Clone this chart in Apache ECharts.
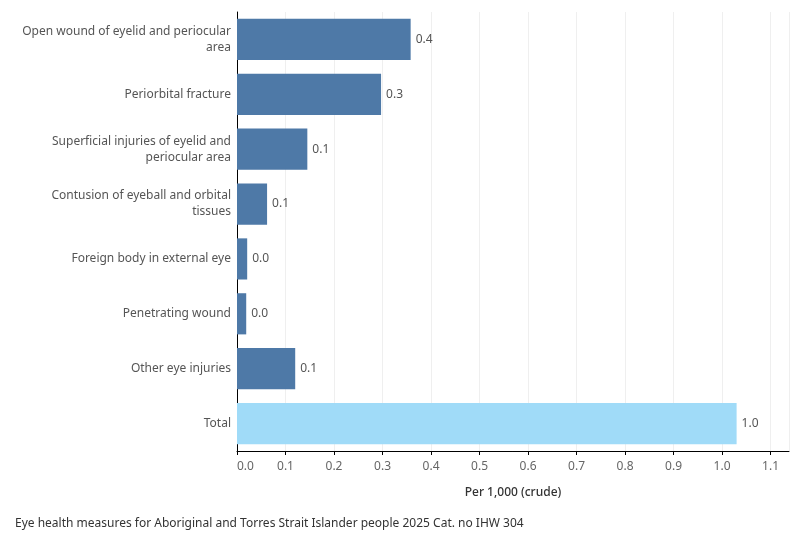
<!DOCTYPE html>
<html>
<head>
<meta charset="utf-8">
<script src="https://cdn.jsdelivr.net/npm/echarts@6/dist/echarts.min.js"></script>
<style>html,body{margin:0;padding:0;background:#fff}#c{width:800px;height:550px}</style>
</head>
<body>
<div id="c"></div>
<script>
const categories = [
  "Open wound of eyelid and periocular area",
  "Periorbital fracture",
  "Superficial injuries of eyelid and periocular area",
  "Contusion of eyeball and orbital tissues",
  "Foreign body in external eye",
  "Penetrating wound",
  "Other eye injuries",
  "Total"
];
const values = [0.358, 0.297, 0.145, 0.062, 0.021, 0.019, 0.120, 1.030];
const xTicks = [0, 1.1, 0.1];
const axisTitle = "Per 1,000 (crude)";
const footer = "Eye health measures for Aboriginal and Torres Strait Islander people 2025 Cat. no IHW 304";

const FONT = "Noto Sans";
const ctx = document.createElement('canvas').getContext('2d');
ctx.font = '12px "' + FONT + '"';
function wrap(text, maxW) {
  const words = text.split(' ');
  const lines = [];
  let cur = '';
  for (const w of words) {
    const test = cur ? cur + ' ' + w : w;
    if (cur && ctx.measureText(test).width > maxW) { lines.push(cur); cur = w; }
    else cur = test;
  }
  if (cur) lines.push(cur);
  return lines.join('\n');
}

const chart = echarts.init(document.getElementById('c'));
chart.setOption({
  animation: false,
  textStyle: { fontFamily: FONT },
  title: {
    text: footer, left: 10, top: 513,
    textStyle: { fontFamily: FONT, fontSize: 12, fontWeight: 'normal', color: '#333' }
  },
  grid: { left: 237, right: 11, top: 12, bottom: 99, containLabel: false },
  xAxis: {
    type: 'value', min: xTicks[0], max: 1.138, interval: xTicks[2],
    name: axisTitle, nameLocation: 'middle', nameGap: 36,
    nameTextStyle: { fontFamily: FONT, fontSize: 12, color: '#333', fontWeight: 500 },
    axisLine: { show: true, lineStyle: { color: '#000', width: 1 } },
    axisTick: { show: true, length: 4, lineStyle: { color: '#000' } },
    axisLabel: {
      fontFamily: FONT, fontSize: 12, color: '#666', margin: 10, showMaxLabel: false,
      alignMinLabel: 'left',
      formatter: v => (v > 1.1 + 1e-9 ? '' : v.toFixed(1))
    },
    splitLine: { show: true, lineStyle: { color: '#efefef', width: 1 } }
  },
  yAxis: {
    type: 'category', data: categories, inverse: true,
    axisLine: { show: true, onZero: false, lineStyle: { color: '#000', width: 1 } },
    axisTick: { show: false },
    axisLabel: {
      fontFamily: FONT, fontSize: 12, color: '#555', margin: 6,
      lineHeight: 16, align: 'right', verticalAlign: 'middle',
      formatter: v => wrap(v, 215)
    }
  },
  series: [{
    type: 'bar',
    data: values.map((v, i) => ({
      value: v,
      itemStyle: { color: i === values.length - 1 ? '#a0dbf8' : '#4e79a7' }
    })),
    barCategoryGap: '25%',
    label: {
      show: true, position: 'right', distance: 5,
      fontFamily: FONT, fontSize: 12, color: '#555',
      formatter: p => p.value.toFixed(1)
    }
  }]
});
</script>
</body>
</html>
